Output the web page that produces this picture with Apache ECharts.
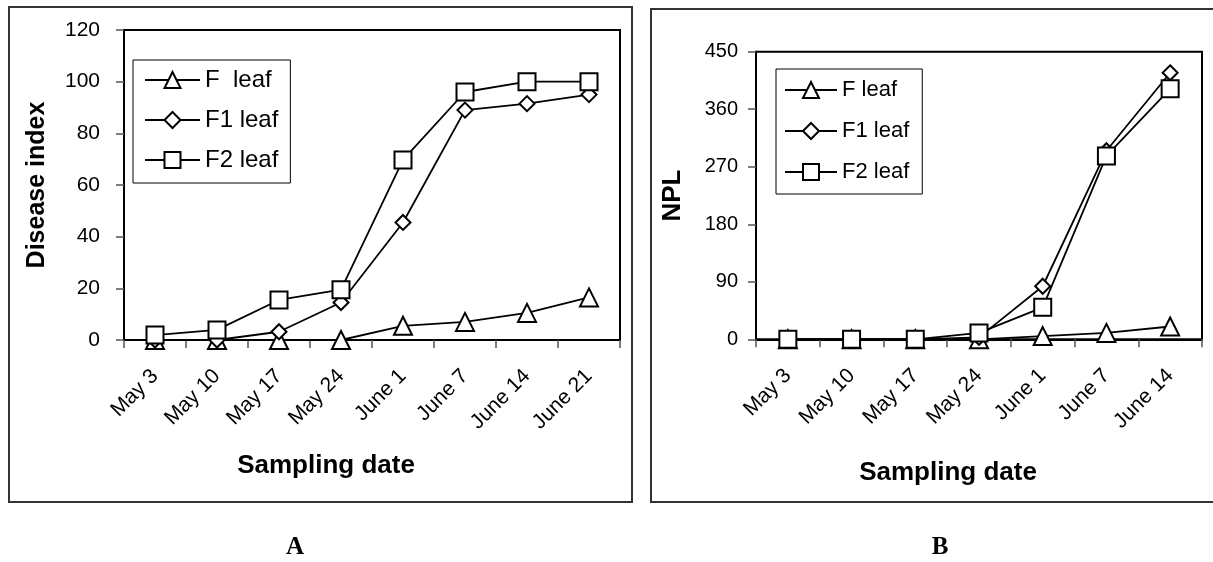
<!DOCTYPE html>
<html><head><meta charset="utf-8">
<script src="https://cdn.jsdelivr.net/npm/echarts@6/dist/echarts.min.js"></script>
<style>html,body{margin:0;padding:0;background:#fff}#c{width:1213px;height:562px}</style>
</head><body><div id="c"></div>
<script>
// Panel A: Disease index
const catsA = ['May 3','May 10','May 17','May 24','June 1','June 7','June 14','June 21'];
const fLeafA  = [0, 0, 0, 0, 5.5, 7, 10.5, 16.5];
const f1LeafA = [0, 0, 3.2, 14.5, 45.5, 89, 91.5, 95];
const f2LeafA = [1.9, 3.9, 15.5, 19.5, 69.7, 96, 100, 100];
// Panel B: NPL
const catsB = ['May 3','May 10','May 17','May 24','June 1','June 7','June 14'];
const fLeafB  = [0, 0, 0, 0, 5, 10, 20];
const f1LeafB = [0, 0, 0, 3, 83, 295, 417];
const f2LeafB = [0, 0, 0, 10, 50, 287, 392];
const namesA = ['F  leaf','F1 leaf','F2 leaf'];
const namesB = ['F leaf','F1 leaf','F2 leaf'];

const ARIAL = "'Liberation Sans', Arial, sans-serif";
const NARROW = "'Liberation Sans Narrow', 'Arial Narrow', 'Liberation Sans', sans-serif";

const chart = echarts.init(document.getElementById('c'), null, {renderer:'canvas'});
const symbols = ['triangle','diamond','rect'];
const sizes = [18, 15, 17];
function mk(names, data, xi, yi){
  return names.map((n,i)=>({
    name:n, type:'line', xAxisIndex:xi, yAxisIndex:yi,
    data:data[i], symbol:symbols[i], symbolSize:sizes[i], showAllSymbol:true,
    lineStyle:{color:'#000', width:1.8},
    itemStyle:{color:'#fff', borderColor:'#000', borderWidth:2},
    emphasis:{disabled:true}, animation:false, z:2+i
  }));
}
const xAxisCommon = (cats, font)=>({
  type:'category', data:cats, boundaryGap:true,
  axisLine:{lineStyle:{color:'#000', width:2}},
  axisTick:{show:true, length:8, lineStyle:{color:'#555', width:1.5}},
  axisLabel:{rotate:45, margin:33, color:'#000', fontSize:21, fontFamily:font},
  splitLine:{show:false}
});
chart.setOption({
  animation:false,
  grid:[
    {left:124, top:30, width:496, height:310, show:true, borderColor:'#000', borderWidth:2, containLabel:false},
    {left:756, top:51.7, width:446, height:287.6, show:true, borderColor:'#000', borderWidth:2, containLabel:false}
  ],
  xAxis:[
    Object.assign(xAxisCommon(catsA, ARIAL), {gridIndex:0}),
    Object.assign(xAxisCommon(catsB, ARIAL), {gridIndex:1})
  ],
  yAxis:[
    {gridIndex:0, type:'value', min:0, max:120, interval:20,
     name:'Disease index', nameLocation:'middle', nameGap:74,
     nameTextStyle:{fontSize:25, fontWeight:'bold', color:'#000', fontFamily:ARIAL},
     axisLine:{show:true, lineStyle:{color:'#000', width:2}},
     axisTick:{show:true, length:8, lineStyle:{color:'#555', width:1.5}},
     axisLabel:{margin:24, color:'#000', fontSize:21, fontFamily:ARIAL},
     splitLine:{show:false}},
    {gridIndex:1, type:'value', min:0, max:450, interval:90,
     name:'NPL', nameLocation:'middle', nameGap:70,
     nameTextStyle:{fontSize:26, fontWeight:'bold', color:'#000', fontFamily:ARIAL},
     axisLine:{show:true, lineStyle:{color:'#000', width:2}},
     axisTick:{show:true, length:8, lineStyle:{color:'#555', width:1.5}},
     axisLabel:{margin:18, color:'#000', fontSize:20, fontFamily:NARROW},
     splitLine:{show:false}}
  ],
  legend:[
    {data:namesA, orient:'vertical', left:133, top:60, itemWidth:55, itemHeight:20, itemGap:16,
     padding:[8,12,11,11], borderColor:'#000', borderWidth:1, backgroundColor:'#fff',
     textStyle:{fontSize:24, color:'#000', fontFamily:ARIAL}, selectedMode:false},
    {data:namesB, orient:'vertical', left:776, top:69, itemWidth:52, itemHeight:20, itemGap:19,
     padding:[10,13,11,8], borderColor:'#000', borderWidth:1, backgroundColor:'#fff',
     textStyle:{fontSize:22, color:'#000', fontFamily:NARROW}, selectedMode:false}
  ],
  series:[].concat(
    mk(namesA, [fLeafA, f1LeafA, f2LeafA], 0, 0),
    mk(namesB, [fLeafB, f1LeafB, f2LeafB], 1, 1)
  ),
  graphic:[
    {type:'rect', shape:{x:9, y:7, width:623, height:495}, style:{fill:'none', stroke:'#333', lineWidth:2}, z:-10, silent:true},
    {type:'rect', shape:{x:651, y:9, width:620, height:493}, style:{fill:'none', stroke:'#333', lineWidth:2}, z:-10, silent:true},
    {type:'text', x:326, y:466, style:{text:'Sampling date', fill:'#000', font:"bold 26px 'Liberation Sans', Arial, sans-serif", textAlign:'center', textVerticalAlign:'middle'}, silent:true},
    {type:'text', x:948, y:473, style:{text:'Sampling date', fill:'#000', font:"bold 26px 'Liberation Sans', Arial, sans-serif", textAlign:'center', textVerticalAlign:'middle'}, silent:true},
    {type:'text', x:295, y:548, style:{text:'A', fill:'#000', font:"bold 25px 'Liberation Serif', 'Times New Roman', serif", textAlign:'center', textVerticalAlign:'middle'}, silent:true},
    {type:'text', x:940, y:548, style:{text:'B', fill:'#000', font:"bold 25px 'Liberation Serif', 'Times New Roman', serif", textAlign:'center', textVerticalAlign:'middle'}, silent:true}
  ]
});
</script></body></html>
